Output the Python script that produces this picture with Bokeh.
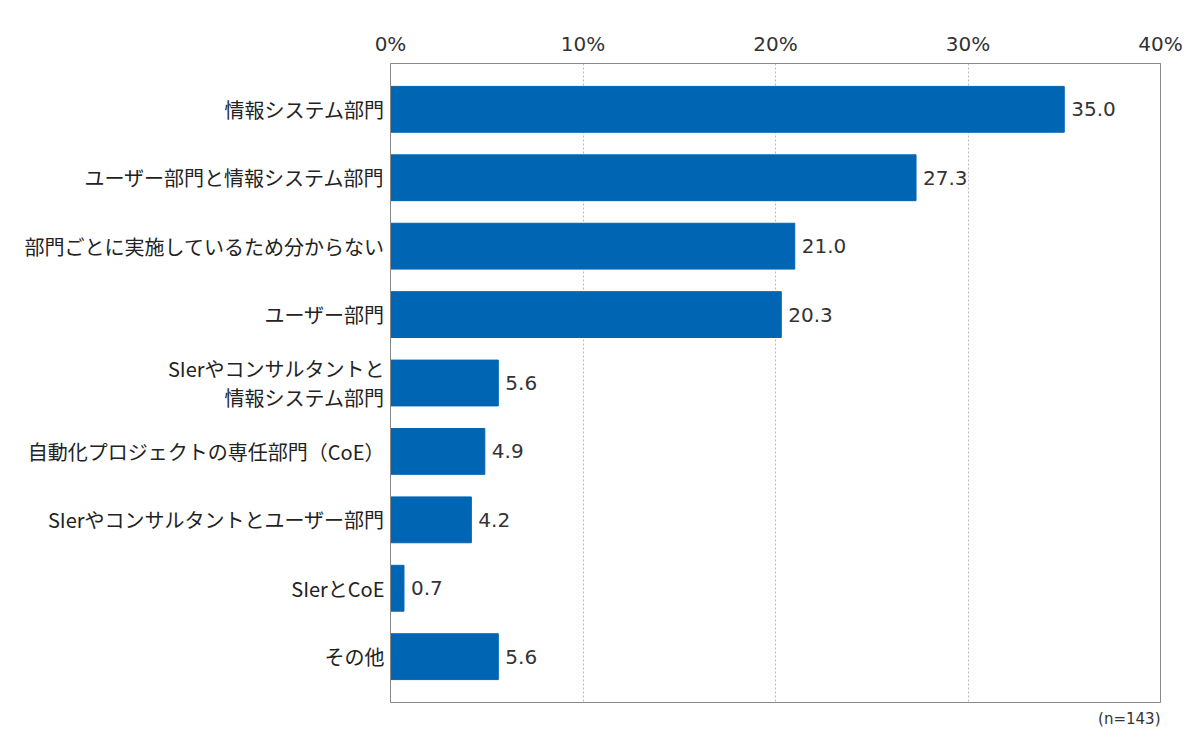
from bokeh.plotting import figure
from bokeh.models import FixedTicker, PrintfTickFormatter, Range1d, Title
from bokeh.core.properties import value
from bokeh.embed import file_html
from bokeh.resources import INLINE

# datos
categorias = [
    "情報システム部門",
    "ユーザー部門と情報システム部門",
    "部門ごとに実施しているため分からない",
    "ユーザー部門",
    "SIerやコンサルタントと\n情報システム部門",
    "自動化プロジェクトの専任部門（CoE）",
    "SIerやコンサルタントとユーザー部門",
    "SIerとCoE",
    "その他",
]
valores = [35.0, 27.3, 21.0, 20.3, 5.6, 4.9, 4.2, 0.7, 5.6]
ticks_x = [0, 10, 20, 30, 40]
nota = "(n=143)"

FUENTE = "Noto Sans CJK JP"
NUMEROS = "DejaVu Sans"
posiciones = list(range(len(categorias)))
etiquetas = ["%.1f" % v for v in valores]

p = figure(width=1184, height=732, output_backend="svg", toolbar_location=None,
           x_axis_location="above", x_range=Range1d(0, 40),
           y_range=Range1d(len(categorias) - 1 + 0.67, -0.67),
           min_border_left=390, min_border_right=24, min_border_top=63,
           min_border_bottom=20)

p.hbar(y=posiciones, right=valores, left=0, height=0.67, color="#0066b3")
p.text(x=valores, y=posiciones, text=etiquetas, x_offset=7,
       text_baseline="middle", text_align="left", text_color="#333333",
       text_font=value(NUMEROS), text_font_size="20px")

# eje x arriba
p.xaxis.ticker = FixedTicker(ticks=ticks_x)
p.xaxis.formatter = PrintfTickFormatter(format="%d%%")
p.xaxis.major_label_text_font = NUMEROS
p.xaxis.major_label_text_font_size = "20px"
p.xaxis.major_label_text_color = "#333333"
p.xaxis.major_tick_line_color = None
p.xaxis.minor_tick_line_color = None
p.xaxis.axis_line_color = "#888888"
p.xaxis.major_label_standoff = 2

# eje y con categorías
p.yaxis.ticker = FixedTicker(ticks=posiciones)
p.yaxis.major_label_overrides = {i: c for i, c in zip(posiciones, categorias)}
p.yaxis.major_label_text_font = FUENTE
p.yaxis.major_label_text_font_size = "20px"
p.yaxis.major_label_text_color = "#222222"
p.yaxis.major_label_text_line_height = 1.0
p.yaxis.major_tick_line_color = None
p.yaxis.minor_tick_line_color = None
p.yaxis.axis_line_color = "#888888"
p.yaxis.major_label_standoff = 0

# cuadrícula
p.xgrid.grid_line_color = "#bbbbbb"
p.xgrid.grid_line_dash = "2 2"
p.ygrid.grid_line_color = None
p.outline_line_color = "#888888"

p.add_layout(Title(text=nota, align="right", text_font=NUMEROS,
                   text_font_size="15px", text_font_style="normal",
                   text_color="#333333"), "below")

open("out.html", "w").write(file_html(p, INLINE))
